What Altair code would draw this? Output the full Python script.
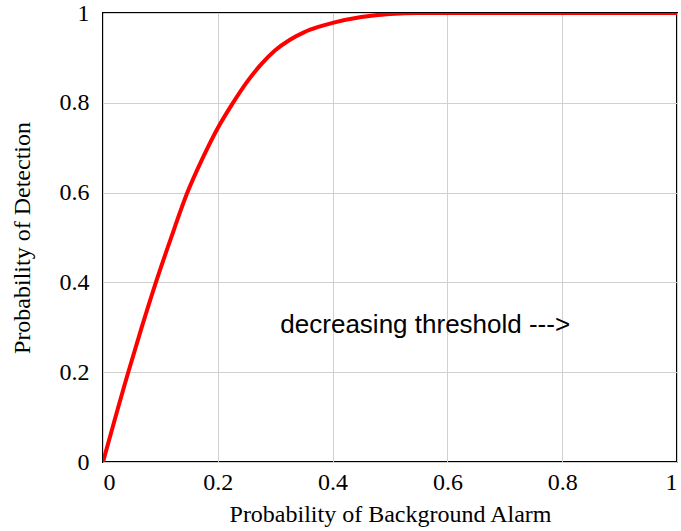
import altair as alt
import pandas as pd

pfa = [0, 0.044, 0.067, 0.0906, 0.118, 0.147, 0.173, 0.20, 0.225, 0.25, 0.275,
       0.30, 0.325, 0.35, 0.375, 0.40, 0.45, 0.50, 0.55, 0.75, 1.0]
pd_vals = [0, 0.20, 0.298, 0.394, 0.497, 0.60, 0.675, 0.744, 0.797, 0.845, 0.885,
           0.917, 0.940, 0.957, 0.969, 0.978, 0.991, 0.998, 1.0, 1.0, 1.0]

note_x = [0.309]
note_y = [0.305]
note_text = ["decreasing threshold --->"]

df = pd.DataFrame({"pfa": pfa, "pd": pd_vals})
notes = pd.DataFrame({"x": note_x, "y": note_y, "t": note_text})

xscale = alt.Scale(domain=[0, 1], nice=False)
yscale = alt.Scale(domain=[0, 1], nice=False)

line = alt.Chart(df).mark_line(color="#ff0000", strokeWidth=4, clip=True,
                               interpolate="monotone").encode(
    x=alt.X("pfa:Q", scale=xscale, title="Probability of Background Alarm",
            axis=alt.Axis(values=[0, 0.2, 0.4, 0.6, 0.8, 1], format="~g",
                          grid=True, gridColor="#d0d0d0", gridWidth=1,
                          ticks=False, domain=False, labelFont="Liberation Serif",
                          labelFontSize=24, labelColor="black", labelPadding=8,
                          titleFont="Liberation Serif", titleFontSize=24,
                          titleFontWeight="normal", titleColor="black", titlePadding=8)),
    y=alt.Y("pd:Q", scale=yscale, title="Probability of Detection",
            axis=alt.Axis(values=[0, 0.2, 0.4, 0.6, 0.8, 1], format="~g",
                          grid=True, gridColor="#d0d0d0", gridWidth=1,
                          ticks=False, domain=False, labelFont="Liberation Serif",
                          labelFontSize=24, labelColor="black", labelPadding=14,
                          titleFont="Liberation Serif", titleFontSize=24,
                          titleFontWeight="normal", titleColor="black", titlePadding=25)),
)

text = alt.Chart(notes).mark_text(font="Liberation Sans", fontSize=26, align="left",
                                  baseline="middle", color="black").encode(
    x=alt.X("x:Q", scale=xscale), y=alt.Y("y:Q", scale=yscale), text="t:N")

chart = alt.layer(line, text).properties(
    width=574, height=449,
    background="white",
    autosize=alt.AutoSizeParams(type="none"),
    padding={"left": 103, "top": 13, "right": 4, "bottom": 69},
).configure_view(stroke="black", strokeWidth=2)

chart.save("out.html", embed_options={"renderer": "svg", "actions": False})
